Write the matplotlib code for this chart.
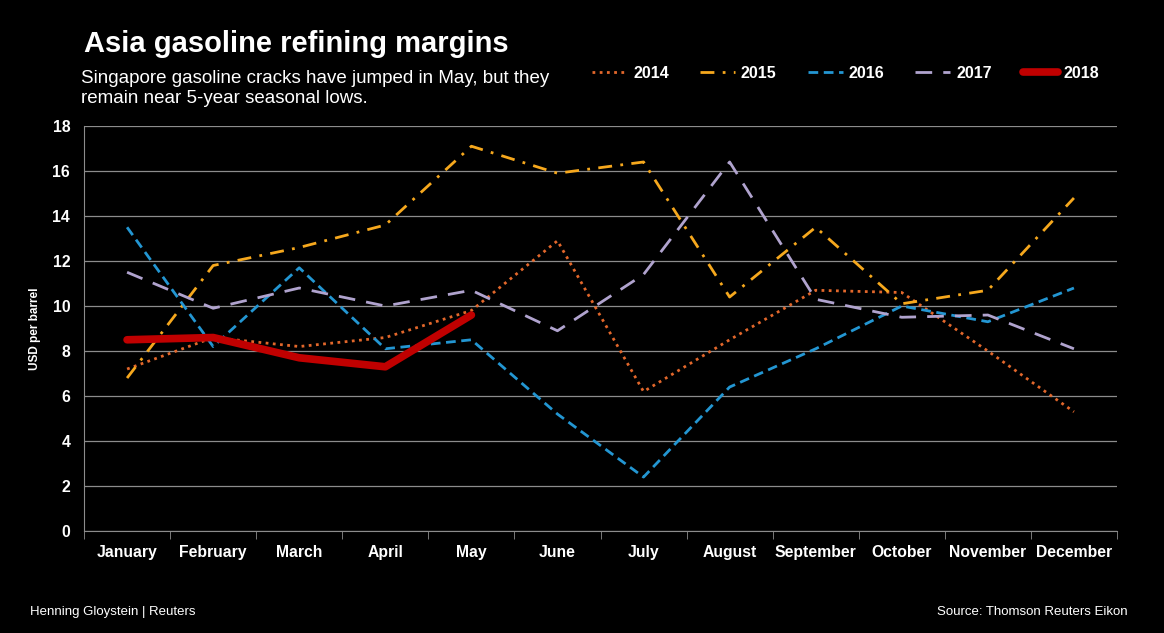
import matplotlib.pyplot as plt
import numpy as np

plt.rcParams['font.family'] = ['Liberation Sans', 'DejaVu Sans']

months = ['January', 'February', 'March', 'April', 'May', 'June', 'July',
          'August', 'September', 'October', 'November', 'December']

# USD per barrel
y2014 = [7.2, 8.6, 8.2, 8.6, 9.8, 12.9, 6.2, 8.5, 10.7, 10.6, 8.0, 5.3]
y2015 = [6.8, 11.8, 12.6, 13.6, 17.1, 15.9, 16.4, 10.4, 13.5, 10.1, 10.7, 14.8]
y2016 = [13.5, 8.2, 11.7, 8.1, 8.5, 5.2, 2.4, 6.4, 8.1, 10.0, 9.3, 10.8]
y2017 = [11.5, 9.9, 10.8, 10.0, 10.7, 8.9, 11.4, 16.4, 10.3, 9.5, 9.6, 8.1]
y2018 = [8.5, 8.6, 7.7, 7.3, 9.6]

fig = plt.figure(figsize=(11.64, 6.33), dpi=100, facecolor='black')
ax = fig.add_axes([0.0722, 0.161, 0.8874, 0.640], facecolor='black')

x = np.arange(len(months))
ax.plot(x, y2014, color='#E2672B', lw=2, ls=(0, (1, 1.6)), label='2014')
ax.plot(x, y2015, color='#F6A81D', lw=2, ls=(0, (5, 3, 1, 3)), label='2015')
ax.plot(x, y2016, color='#2396D2', lw=2, ls=(0, (3.5, 2)), label='2016')
ax.plot(x, y2017, color='#B0A3CE', lw=2, ls=(0, (6, 4)), label='2017')
ax.plot(x[:len(y2018)], y2018, color='#C00000', lw=5.5,
        solid_capstyle='round', solid_joinstyle='round', label='2018')

ax.set_xlim(-0.5, 11.5)
ax.set_ylim(0, 18)
ax.set_yticks(range(0, 19, 2))
ax.yaxis.grid(True, color='#8c8c8c', lw=0.9)
ax.set_axisbelow(True)
ax.set_xticks(x)
ax.set_xticklabels(months)
ax.set_xticks(np.arange(-0.5, 12, 1), minor=True)
ax.tick_params(axis='x', which='major', length=0, pad=10, colors='white',
               labelsize=11.3)
ax.tick_params(axis='x', which='minor', length=6, color='#8c8c8c',
               direction='out')
ax.tick_params(axis='y', length=0, colors='white', labelsize=11.3, pad=10)
for lab in ax.get_xticklabels() + ax.get_yticklabels():
    lab.set_fontweight('bold')
for side in ['top', 'right']:
    ax.spines[side].set_visible(False)
for side in ['left', 'bottom']:
    ax.spines[side].set_color('#8c8c8c')
ax.set_ylabel('USD per barrel', color='white', fontsize=8.5,
              fontweight='bold', labelpad=8)

fig.text(0.072, 0.93, 'Asia gasoline refining margins', color='white',
         fontsize=21, fontweight='bold', va='center')
fig.text(0.0696, 0.86, 'Singapore gasoline cracks have jumped in May, but they\n'
         'remain near 5-year seasonal lows.', color='white', fontsize=13.5,
         va='center', linespacing=1.22)

leg = fig.legend(loc='center left', bbox_to_anchor=(0.509, 0.884), ncol=5,
                 frameon=False, handlelength=2.2, columnspacing=1.95,
                 handletextpad=0.35, borderpad=0, borderaxespad=0,
                 prop={'weight': 'bold', 'size': 11.5})
for t in leg.get_texts():
    t.set_color('white')

fig.text(0.026, 0.033, 'Henning Gloystein | Reuters', color='white',
         fontsize=9.5, va='center')
fig.text(0.969, 0.033, 'Source: Thomson Reuters Eikon', color='white',
         fontsize=9.5, va='center', ha='right')

fig.savefig('out.png', dpi=100, facecolor='black')
